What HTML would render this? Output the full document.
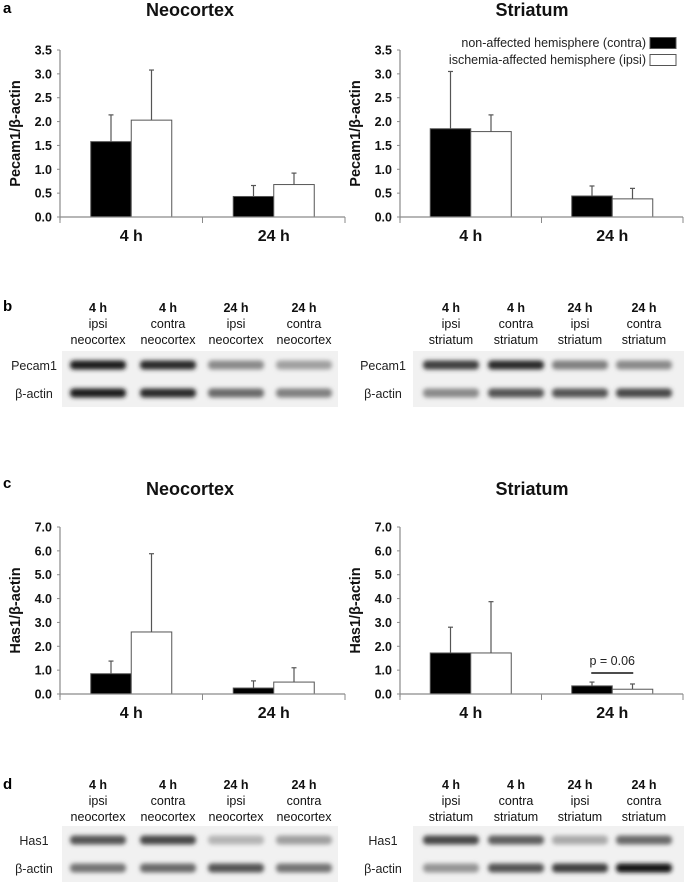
<!DOCTYPE html>
<html>
<head>
<meta charset="utf-8">
<style>
html,body{margin:0;padding:0;background:#fff;}
svg{display:block;font-family:"Liberation Sans",sans-serif;}
.b{font-weight:bold;}
</style>
</head>
<body>
<svg id="fig" width="684" height="885" viewBox="0 0 684 885">
<defs>
<filter id="blur" x="-20%" y="-100%" width="140%" height="300%"><feGaussianBlur stdDeviation="2.2"/></filter>
</defs>
<g id="charts"></g>
<g id="blots"></g>
</svg>
<script>
// ---- data ----
const categories = ['4 h', '24 h'];
const pecamNeoContra = [1.58, 0.43];
const pecamNeoContraErr = [2.14, 0.66];
const pecamNeoIpsi = [2.03, 0.68];
const pecamNeoIpsiErr = [3.08, 0.92];
const pecamStrContra = [1.85, 0.44];
const pecamStrContraErr = [3.05, 0.65];
const pecamStrIpsi = [1.79, 0.38];
const pecamStrIpsiErr = [2.14, 0.60];
const has1NeoContra = [0.85, 0.25];
const has1NeoContraErr = [1.38, 0.55];
const has1NeoIpsi = [2.60, 0.50];
const has1NeoIpsiErr = [5.88, 1.10];
const has1StrContra = [1.72, 0.34];
const has1StrContraErr = [2.80, 0.50];
const has1StrIpsi = [1.72, 0.20];
const has1StrIpsiErr = [3.87, 0.42];
const pecamTicks = ['0.0','0.5','1.0','1.5','2.0','2.5','3.0','3.5'];
const has1Ticks = ['0.0','1.0','2.0','3.0','4.0','5.0','6.0','7.0'];
const legendLabels = ['non-affected hemisphere (contra)', 'ischemia-affected hemisphere (ipsi)'];
const laneHeaders = [['4 h','ipsi'],['4 h','contra'],['24 h','ipsi'],['24 h','contra']];
// band darkness per lane (0..1)
const bPecamNeo = [0.95, 0.9, 0.45, 0.35];
const bActinNeoB = [0.95, 0.9, 0.6, 0.5];
const bPecamStr = [0.8, 0.9, 0.5, 0.45];
const bActinStrB = [0.45, 0.7, 0.7, 0.75];
const bHas1Neo = [0.7, 0.75, 0.25, 0.35];
const bActinNeoD = [0.55, 0.6, 0.7, 0.55];
const bHas1Str = [0.75, 0.65, 0.3, 0.6];
const bActinStrD = [0.4, 0.7, 0.8, 0.98];

const NS = 'http://www.w3.org/2000/svg';
function mk(tag, attrs, parent) {
  const e = document.createElementNS(NS, tag);
  for (const k in attrs) e.setAttribute(k, attrs[k]);
  parent.appendChild(e);
  return e;
}
function txt(s, attrs, parent) { const t = mk('text', attrs, parent); t.textContent = s; return t; }

const charts = document.getElementById('charts');

function drawChart(opt) {
  const g = mk('g', {}, charts);
  
  
  const x0 = opt.x0, x1 = opt.x1, y0 = opt.y0, yTop = opt.yTop;
  const maxV = parseFloat(opt.ticks[opt.ticks.length - 1]);
  const yScale = v => y0 - (y0 - yTop) * v / maxV;
  const bw = (x1 - x0) / categories.length;
  const xCenter = i => x0 + bw * (i + 0.5);
  const barW = 40.5;
  // title
  const t = txt(opt.title, {x: opt.titleX, y: opt.titleY, 'text-anchor': 'middle', 'font-size': 18, class: 'b', fill: '#111'}, g);
  
  
  // y axis
  const ya = mk('line', {x1: x0, y1: yTop, x2: x0, y2: y0 + 3, stroke: '#8a8a8a', 'stroke-width': 1.2}, g);
  
  
  opt.ticks.forEach(tk => {
    const y = yScale(parseFloat(tk));
    mk('line', {x1: x0 - 3, y1: y, x2: x0, y2: y, stroke: '#8a8a8a', 'stroke-width': 1}, g);
    const tl = txt(tk, {x: x0 - 8, y: y + 4.5, 'text-anchor': 'end', 'font-size': 12.5, class: 'b', fill: '#111'}, g);
    
    
  });
  const yt = txt(opt.yTitle, {x: 0, y: 0, 'text-anchor': 'middle', 'font-size': 14.5, class: 'b', fill: '#111',
    transform: `translate(${x0 - 40},${(y0 + yTop) / 2}) rotate(-90)`}, g);
  
  
  // bars
  categories.forEach((c, i) => {
    const cx = xCenter(i);
    const series = [[opt.contra, opt.contraErr, '#000'], [opt.ipsi, opt.ipsiErr, '#fff']];
    series.forEach((s, j) => {
      const bx = cx - barW + j * barW;
      const v = s[0][i], e = s[1][i];
      const top = yScale(v);
      const eb = mk('line', {x1: bx + barW / 2, y1: yScale(e), x2: bx + barW / 2, y2: top, stroke: '#555', 'stroke-width': 1.2}, g);
      
      
      mk('line', {x1: bx + barW / 2 - 2.5, y1: yScale(e), x2: bx + barW / 2 + 2.5, y2: yScale(e), stroke: '#555', 'stroke-width': 1.2}, g);
      const r = mk('rect', {x: bx, y: top, width: barW, height: y0 - top, fill: s[2], stroke: '#555', 'stroke-width': 1}, g);
      
      
    });
    const cl = txt(c, {x: cx, y: y0 + 24, 'text-anchor': 'middle', 'font-size': 16, class: 'b', fill: '#111'}, g);
    
    
  });
  // x axis
  const xa = mk('line', {x1: x0, y1: y0, x2: x1, y2: y0, stroke: '#8a8a8a', 'stroke-width': 1.2}, g);
  
  
  for (let i = 0; i <= categories.length; i++) {
    const x = x0 + bw * i;
    mk('line', {x1: x, y1: y0, x2: x, y2: y0 + 6, stroke: '#8a8a8a', 'stroke-width': 1}, g);
  }
  return {g, xCenter, yScale, barW};
}

const ta = txt('a', {x: 3, y: 13, 'font-size': 15, class: 'b'}, charts);


drawChart({name: 'pecam1-neocortex-chart', title: 'Neocortex', titleX: 190, titleY: 16, x0: 60, x1: 345, y0: 217, yTop: 50,
  ticks: pecamTicks, yTitle: 'Pecam1/β-actin', contra: pecamNeoContra, contraErr: pecamNeoContraErr, ipsi: pecamNeoIpsi, ipsiErr: pecamNeoIpsiErr});
drawChart({name: 'pecam1-striatum-chart', title: 'Striatum', titleX: 532, titleY: 16, x0: 400, x1: 683, y0: 217, yTop: 50,
  ticks: pecamTicks, yTitle: 'Pecam1/β-actin', contra: pecamStrContra, contraErr: pecamStrContraErr, ipsi: pecamStrIpsi, ipsiErr: pecamStrIpsiErr});

// legend
const lg = mk('g', {}, charts);


legendLabels.forEach((l, i) => {
  const y = 43 + i * 17;
  const lt = txt(l, {x: 646, y: y + 4, 'text-anchor': 'end', 'font-size': 12.5, fill: '#222'}, lg);
  
  
  const lb = mk('rect', {x: 650, y: y - 5.5, width: 26, height: 11, fill: i === 0 ? '#000' : '#fff', stroke: '#555', 'stroke-width': 1}, lg);
  
  
});

const tc = txt('c', {x: 3, y: 488, 'font-size': 15, class: 'b'}, charts);


drawChart({name: 'has1-neocortex-chart', title: 'Neocortex', titleX: 190, titleY: 495, x0: 60, x1: 345, y0: 694, yTop: 527,
  ticks: has1Ticks, yTitle: 'Has1/β-actin', contra: has1NeoContra, contraErr: has1NeoContraErr, ipsi: has1NeoIpsi, ipsiErr: has1NeoIpsiErr});
const cs = drawChart({name: 'has1-striatum-chart', title: 'Striatum', titleX: 532, titleY: 495, x0: 400, x1: 683, y0: 694, yTop: 527,
  ticks: has1Ticks, yTitle: 'Has1/β-actin', contra: has1StrContra, contraErr: has1StrContraErr, ipsi: has1StrIpsi, ipsiErr: has1StrIpsiErr});
const pl = mk('line', {x1: cs.xCenter(1) - 21, y1: 673, x2: cs.xCenter(1) + 21, y2: 673, stroke: '#111', 'stroke-width': 1.5}, charts);


const pt = txt('p = 0.06', {x: cs.xCenter(1), y: 665, 'text-anchor': 'middle', 'font-size': 12.5, fill: '#222'}, charts);



// ---- blots ----
const blots = document.getElementById('blots');
function drawBlot(opt) {
  const g = mk('g', {}, blots);
  
  
  opt.cols.forEach((cx, i) => {
    const h = laneHeaders[i];
    [h[0], h[1], opt.tissue].forEach((s, k) => {
      const t = txt(s, {x: cx, y: opt.hy + k * 16, 'text-anchor': 'middle', 'font-size': 12.5, fill: '#111', class: k === 0 ? 'b' : ''}, g);
      
      
    });
  });
  opt.rows.forEach((row, r) => {
    const ry = opt.ry[r];
    const lab = txt(row[0], {x: opt.labelX, y: ry + 5, 'text-anchor': 'middle', 'font-size': 12.5, fill: '#222'}, g);
    
    
    mk('rect', {x: opt.bx0, y: ry - 14, width: opt.bx1 - opt.bx0, height: 28, fill: '#f1f1f1'}, g);
    opt.cols.forEach((cx, i) => {
      const d = row[1][i];
      const c = Math.round(235 - 215 * d);
      const band = mk('rect', {x: cx - 28, y: ry - 4.5, width: 56, height: 9, rx: 4, fill: `rgb(${c},${c},${c})`, filter: 'url(#blur)'}, g);
      
      
    });
  });
}
const tb = txt('b', {x: 3, y: 311, 'font-size': 15, class: 'b'}, blots);


drawBlot({name: 'pecam1-neocortex-blot', cols: [98, 168, 236, 304], tissue: 'neocortex', hy: 312, labelX: 34, bx0: 62, bx1: 338,
  ry: [365, 393], rows: [['Pecam1', bPecamNeo], ['β-actin', bActinNeoB]]});
drawBlot({name: 'pecam1-striatum-blot', cols: [451, 516, 580, 644], tissue: 'striatum', hy: 312, labelX: 383, bx0: 413, bx1: 684,
  ry: [365, 393], rows: [['Pecam1', bPecamStr], ['β-actin', bActinStrB]]});
const td = txt('d', {x: 3, y: 789, 'font-size': 15, class: 'b'}, blots);


drawBlot({name: 'has1-neocortex-blot', cols: [98, 168, 236, 304], tissue: 'neocortex', hy: 789, labelX: 34, bx0: 62, bx1: 338,
  ry: [840, 868], rows: [['Has1', bHas1Neo], ['β-actin', bActinNeoD]]});
drawBlot({name: 'has1-striatum-blot', cols: [451, 516, 580, 644], tissue: 'striatum', hy: 789, labelX: 383, bx0: 413, bx1: 684,
  ry: [840, 868], rows: [['Has1', bHas1Str], ['β-actin', bActinStrD]]});
</script>
</body>
</html>
